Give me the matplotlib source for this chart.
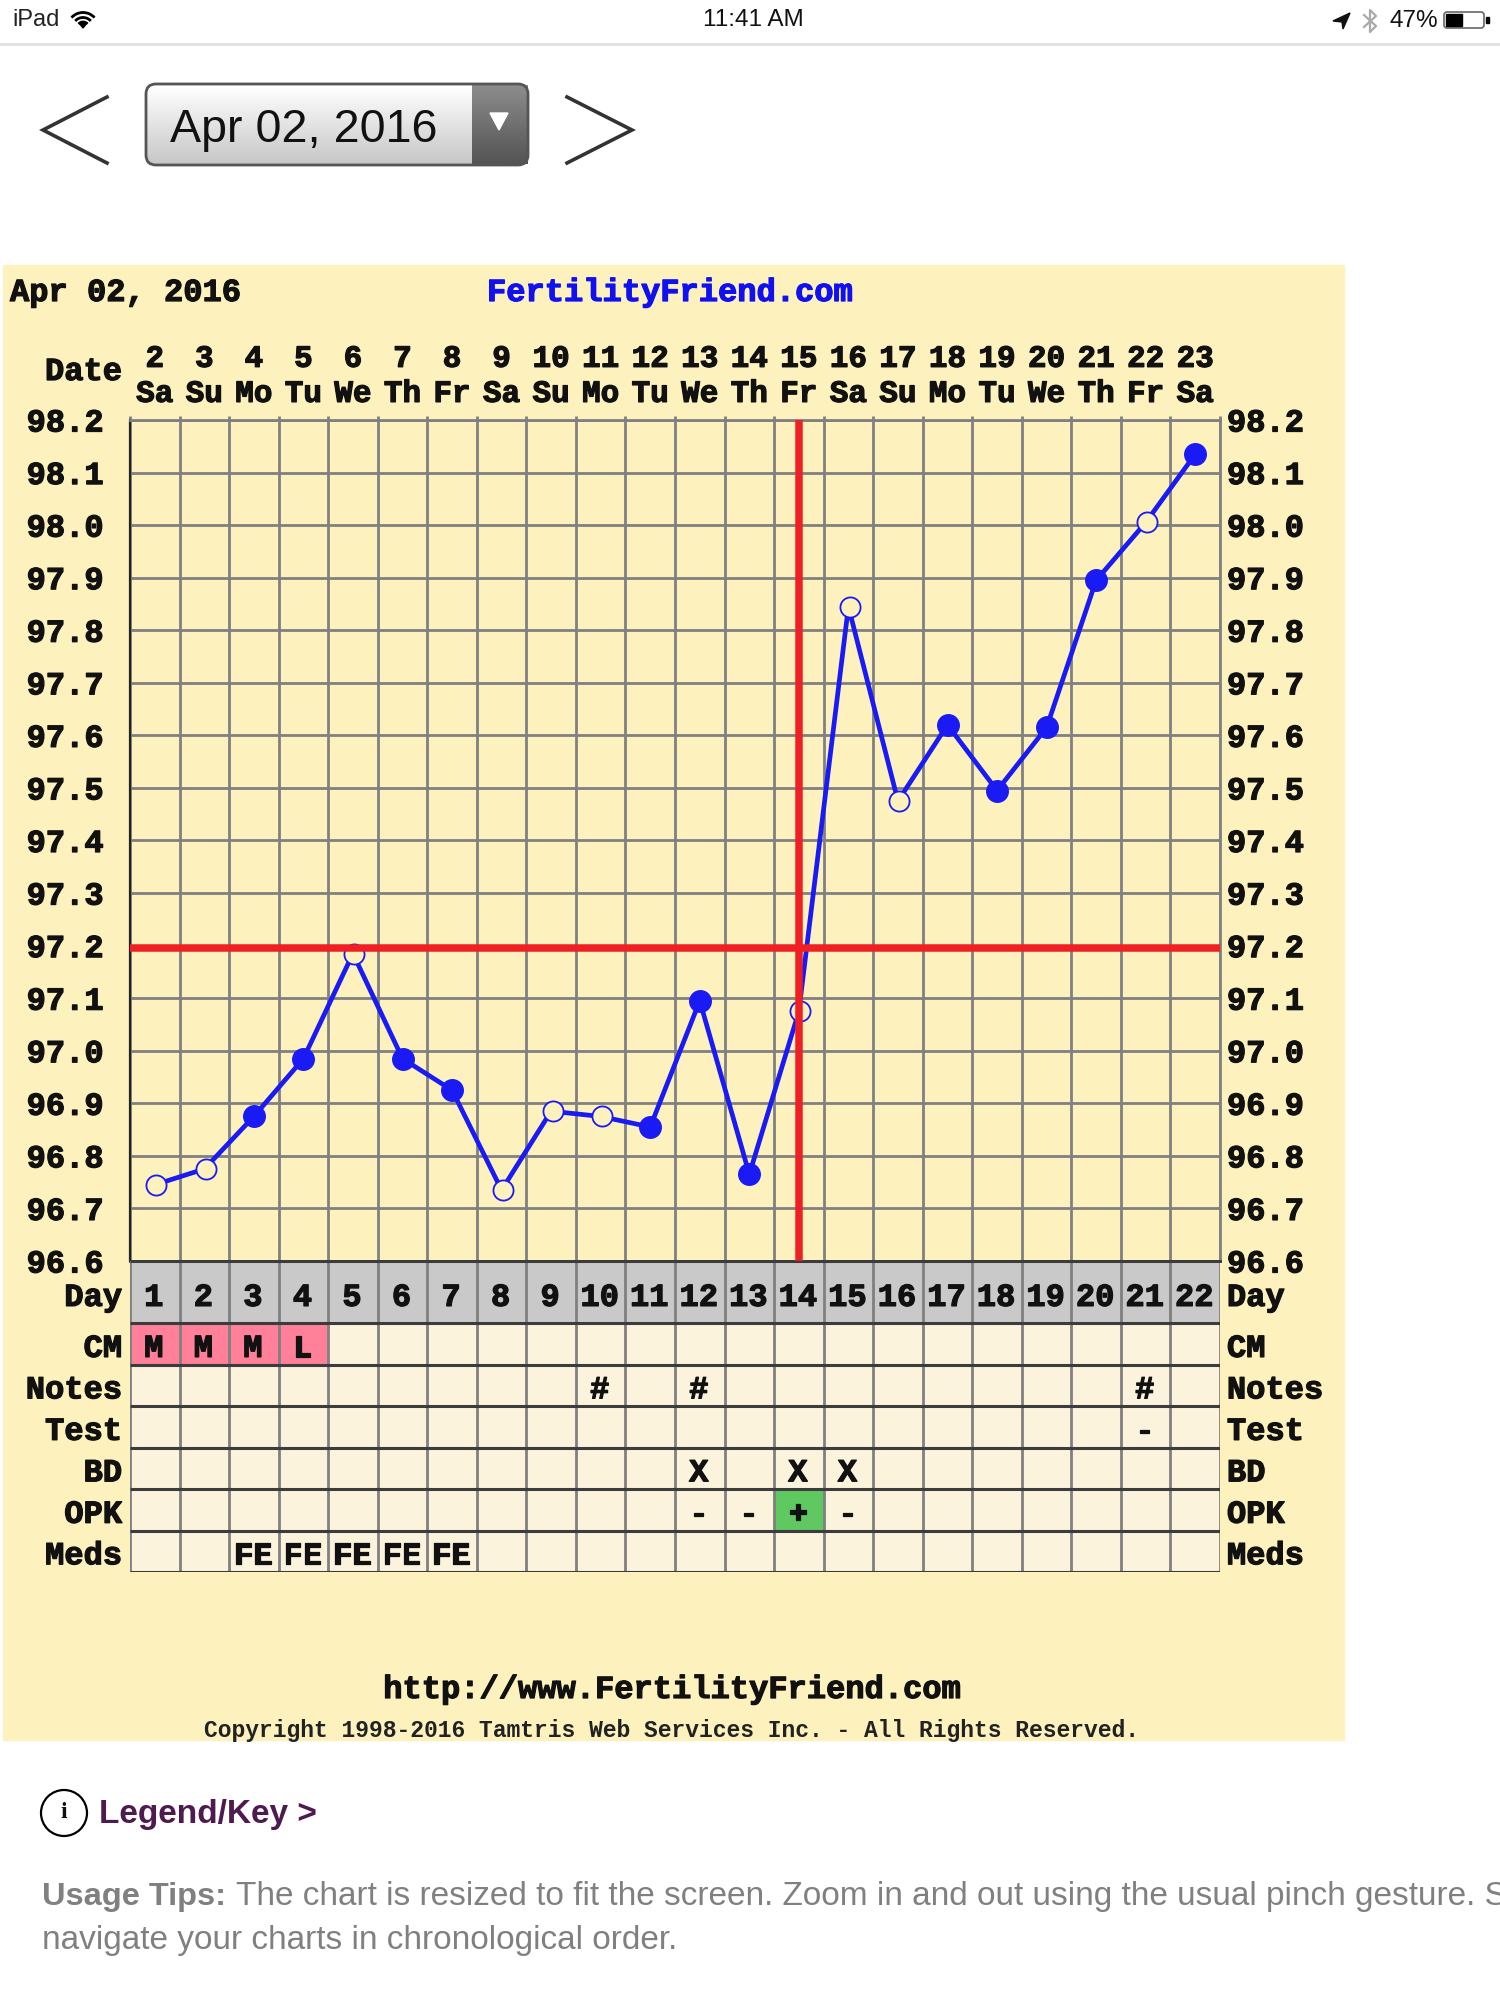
import numpy as np
import matplotlib
matplotlib.use('Agg')
import matplotlib.pyplot as plt
import matplotlib.patheffects as pe
from matplotlib.patches import Rectangle, FancyBboxPatch, Circle, Arc, Polygon

# chart data
dates = [2, 3, 4, 5, 6, 7, 8, 9, 10, 11, 12, 13, 14, 15, 16, 17, 18, 19, 20, 21, 22, 23]
weekdays = ['Sa', 'Su', 'Mo', 'Tu', 'We', 'Th', 'Fr', 'Sa', 'Su', 'Mo', 'Tu', 'We', 'Th', 'Fr',
            'Sa', 'Su', 'Mo', 'Tu', 'We', 'Th', 'Fr', 'Sa']
temps = [96.745, 96.775, 96.875, 96.985, 97.185, 96.985, 96.925, 96.735, 96.885, 96.875, 96.855, 97.095,
         96.765, 97.075, 97.845, 97.475, 97.62, 97.495, 97.615, 97.895, 98.005, 98.135]
filled = [0, 0, 1, 1, 0, 1, 1, 0, 0, 0, 1, 1, 1, 0, 0, 0, 1, 1, 1, 1, 0, 1]
temp_ticks = [98.2, 98.1, 98.0, 97.9, 97.8, 97.7, 97.6, 97.5, 97.4, 97.3, 97.2, 97.1, 97.0,
              96.9, 96.8, 96.7, 96.6]
coverline = 97.195
ovulation_col = 13

row_names = ['Day', 'CM', 'Notes', 'Test', 'BD', 'OPK', 'Meds']
day_row = [str(d) for d in range(1, 23)]
cm_row = ['M', 'M', 'M', 'L'] + [''] * 18
notes_row = [''] * 9 + ['#', '', '#'] + [''] * 8 + ['#', '']
test_row = [''] * 20 + ['-', '']
bd_row = [''] * 11 + ['X', '', 'X', 'X'] + [''] * 7
opk_row = [''] * 11 + ['-', '-', '+', '-'] + [''] * 7
meds_row = ['', '', 'FE', 'FE', 'FE', 'FE', 'FE'] + [''] * 15
table_rows = [day_row, cm_row, notes_row, test_row, bd_row, opk_row, meds_row]

PANEL = '#fdf2bd'
PLOT = '#fdf2bd'
CELL = '#fcf3dd'
GRID = '#808080'
RED = '#ee2024'
BLUE = '#1a1af5'
MONO = 'Liberation Mono'
SANS = 'Liberation Sans'
FS = 23.1
# the original font is a heavy bitmap one, so thicken the glyphs a bit
HEAVY = [pe.withStroke(linewidth=0.9, foreground='#111111')]

W, H = 1500, 2000
fig = plt.figure(figsize=(15, 20), dpi=100, facecolor='white')


def axes_px(x0, y0, x1, y1, **kw):
    return fig.add_axes([x0 / W, 1 - y1 / H, (x1 - x0) / W, (y1 - y0) / H], **kw)


# page furniture, in pixel coordinates
ui = axes_px(0, 0, W, H)
ui.set_xlim(0, W)
ui.set_ylim(H, 0)
ui.axis('off')

ui.plot([0, W], [44, 44], color='#dedede', lw=1.8)
ui.text(12, 20, 'iPad', family=SANS, fontsize=17, va='center', color='#222222')
ui.add_patch(Polygon([[83, 28], [79, 23], [87, 23]], color='black'))
for d in (12, 21, 31):
    ui.add_patch(Arc((83, 28), d, d, theta1=222, theta2=318, lw=2, color='black'))
ui.text(753, 20, '11:41 AM', family=SANS, fontsize=17.5, ha='center', va='center', color='#111111')

ui.add_patch(Polygon([[1333, 21], [1350, 13], [1343, 29], [1342, 22]], color='#111111'))
ui.plot([1364, 1376, 1370, 1370, 1376, 1364], [15, 26, 32, 10, 16, 27], color='#aaaaaa', lw=1.6)
ui.text(1390, 21, '47%', family=SANS, fontsize=17.5, va='center', color='#111111')
ui.add_patch(FancyBboxPatch((1444, 12), 40, 16, boxstyle='round,pad=0,rounding_size=3', fc='white', ec='#666666', lw=1.2))
ui.add_patch(Rectangle((1446, 14), 16, 12, color='black'))
ui.add_patch(Rectangle((1486, 17), 3, 6, color='black'))

# date picker
ui.imshow(np.linspace(1, 0.78, 60)[:, None], cmap='gray', vmin=0, vmax=1, extent=(147, 472, 164, 85), aspect='auto', zorder=1)
ui.imshow(np.linspace(0.55, 0.33, 60)[:, None], cmap='gray', vmin=0, vmax=1, extent=(472, 528, 164, 85), aspect='auto', zorder=1)
ui.set_xlim(0, W)
ui.set_ylim(H, 0)
ui.add_patch(FancyBboxPatch((146, 84), 382, 81, boxstyle='round,pad=0,rounding_size=10', fc='none', ec='#555555', lw=2, zorder=2))
ui.add_patch(Polygon([[490, 113], [508, 113], [499, 130]], color='white', zorder=3))
ui.text(170, 130, 'Apr 02, 2016', family=SANS, fontsize=33.6, va='center', color='#111111', zorder=3)
ui.plot([107, 43, 107], [97, 130, 163], color='#333333', lw=2.6, solid_joinstyle='miter')
ui.plot([567, 632, 567], [97, 130, 163], color='#333333', lw=2.6, solid_joinstyle='miter')

# yellow chart panel
ui.add_patch(Rectangle((3, 265), 1341, 1475, color=PANEL, zorder=1))
ui.text(10, 293, 'Apr 02, 2016', family=MONO, weight='bold', fontsize=FS, va='center', color='#111111', zorder=3, path_effects=HEAVY)
ui.text(487, 293, 'FertilityFriend.com', family=MONO, weight='bold', fontsize=FS, va='center', color='#1010f0', zorder=3,
        path_effects=[pe.withStroke(linewidth=0.9, foreground='#1010f0')])
ui.text(122, 372, 'Date', family=MONO, weight='bold', fontsize=FS, ha='right', va='center', color='#111111', zorder=3, path_effects=HEAVY)
ui.text(672, 1690, 'http://www.FertilityFriend.com', family=MONO, weight='bold', fontsize=FS, ha='center', va='center', color='#111111', zorder=3, path_effects=HEAVY)
ui.text(672, 1731, 'Copyright 1998-2016 Tamtris Web Services Inc. - All Rights Reserved.', family=MONO, weight='bold',
        fontsize=16.6, ha='center', va='center', color='#222222', zorder=3)

# footer
ui.add_patch(Circle((64, 1813), 23, fc='white', ec='black', lw=1.6))
ui.text(64, 1813, 'i', family='Liberation Serif', weight='bold', fontsize=17, ha='center', va='center', color='#111111')
ui.text(99, 1814, 'Legend/Key >', family=SANS, weight='bold', fontsize=24, va='center', color='#4f1a4f')
ui.text(42, 1897, 'Usage Tips:', family=SANS, weight='bold', fontsize=23.4, va='center', color='#808080')
ui.text(236, 1897, 'The chart is resized to fit the screen. Zoom in and out using the usual pinch gesture. S',
        family=SANS, fontsize=24, va='center', color='#808080')
ui.text(42, 1941, 'navigate your charts in chronological order.', family=SANS, fontsize=24, va='center', color='#808080')

# temperature graph
ax = axes_px(130, 420, 1220, 1261)
ax.set_facecolor(PLOT)
ax.set_xlim(0, 22)
ax.set_ylim(96.6, 98.2)
xs = np.arange(len(temps)) + 0.5
ax.set_xticks(xs)
ax.set_xticklabels([f'{d}\n{w}' for d, w in zip(dates, weekdays)], family=MONO, weight='bold', fontsize=22.3, linespacing=1.22,
                   color='#111111', path_effects=HEAVY)
ax.set_xticks(np.arange(23), minor=True)
ax.xaxis.tick_top()
ax.tick_params(axis='x', which='major', length=0, pad=8)
ax.tick_params(axis='x', which='minor', length=3, width=2, color=GRID, top=True, bottom=False)
ax.grid(which='minor', axis='x', color=GRID, lw=2)
ax.set_yticks(temp_ticks)
ax.set_yticklabels([f'{t:.1f}' for t in temp_ticks], family=MONO, weight='bold', fontsize=FS, color='#111111', path_effects=HEAVY)
ax.tick_params(axis='y', length=0, pad=19)
ax.grid(which='major', axis='y', color=GRID, lw=2)
ax.set_axisbelow(True)
for s in ('top', 'right'):
    ax.spines[s].set_color(GRID)
    ax.spines[s].set_linewidth(2)
ax.spines['left'].set_color('#222222')
ax.spines['left'].set_linewidth(1.6)
ax.spines['bottom'].set_color('#333333')
ax.spines['bottom'].set_linewidth(2)

ax2 = ax.twinx()
ax2.set_ylim(96.6, 98.2)
ax2.set_yticks(temp_ticks)
ax2.set_yticklabels([f'{t:.1f}' for t in temp_ticks], family=MONO, weight='bold', fontsize=FS, color='#111111', path_effects=HEAVY)
ax2.tick_params(axis='y', length=0, pad=5)
for s in ax2.spines.values():
    s.set_visible(False)

# in the original the red lines lie over the temperature curve
ax.plot(xs, temps, color=BLUE, lw=3.4, zorder=3)
is_filled = np.array(filled) == 1
ax.plot(xs[~is_filled] + 0.03, np.array(temps)[~is_filled], 'o', ms=14.5, mfc=PLOT, mec=BLUE, mew=1.3, ls='none', zorder=4, clip_on=False)
ax.plot(xs[is_filled], np.array(temps)[is_filled], 'o', ms=15.5, mfc=BLUE, mec=BLUE, ls='none', zorder=4, clip_on=False)
ax.axhline(coverline, color=RED, lw=5.4, zorder=5)
ax.axvline(xs[ovulation_col], color=RED, lw=5.4, zorder=5)

# table of daily observations
tb = axes_px(130, 1261, 1220, 1572)
tb.set_xlim(0, 22)
row_edges = np.array([0, 1.5, 2.5, 3.5, 4.5, 5.5, 6.5, 7.5])
tb.set_ylim(row_edges[-1], 0)
tb.add_patch(Rectangle((0, 0), 22, row_edges[-1], color=CELL, zorder=0))
tb.add_patch(Rectangle((0, 0), 22, 1.5, color='#c9c9c9', zorder=1))
for i, v in enumerate(cm_row):
    if v:
        tb.add_patch(Rectangle((i, 1.5), 1, 1, color='#ff8098', zorder=1))
for i, v in enumerate(opk_row):
    if v == '+':
        tb.add_patch(Rectangle((i, 5.5), 1, 1, color='#60c860', zorder=1))
tb.vlines(np.arange(23), 0, row_edges[-1], color=GRID, lw=2, zorder=2)
tb.hlines(row_edges, 0, 22, color='#3c3c3c', lw=2.2, zorder=2)
tb.axis('off')
row_mid = (row_edges[:-1] + row_edges[1:]) / 2
for r, (name, vals, ym) in enumerate(zip(row_names, table_rows, row_mid)):
    ym = 0.89 if r == 0 else ym + 0.12
    tb.text(-0.16, ym, name, family=MONO, weight='bold', fontsize=FS, ha='right', va='center', color='#111111', path_effects=HEAVY)
    tb.text(22.14, ym, name, family=MONO, weight='bold', fontsize=FS, ha='left', va='center', color='#111111', path_effects=HEAVY)
    for i, v in enumerate(vals):
        if v:
            tb.text(i + 0.48, ym, v, family=MONO, weight='bold', fontsize=FS, ha='center', va='center', color='#111111', zorder=3, path_effects=HEAVY)

fig.savefig('out.png', dpi=100, facecolor='white')
